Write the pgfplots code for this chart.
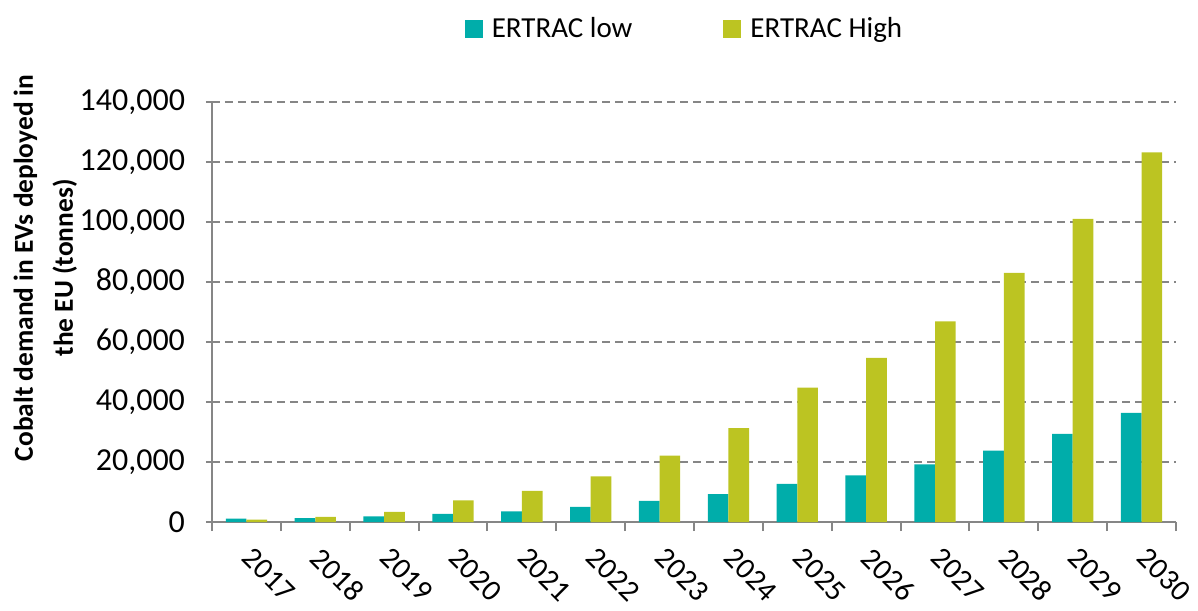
\documentclass[border=0pt]{standalone}
\usepackage{fontspec}
\setmainfont{Carlito}
\usepackage{pgfplots}
\usepackage{pgfplotstable}
\pgfplotsset{compat=1.18}
\definecolor{cTeal}{RGB}{0,173,170}
\definecolor{cOlive}{RGB}{188,196,34}
\definecolor{gridgray}{RGB}{134,134,134}
\pgfplotstableread{
x low high
0 1100 800
1 1300 1700
2 1900 3400
3 2700 7200
4 3500 10400
5 5000 15200
6 7000 22100
7 9300 31300
8 12700 44800
9 15500 54700
10 19200 66900
11 23800 83000
12 29400 101000
13 36400 123200
}\datatable
\begin{document}
\begin{tikzpicture}
\begin{axis}[
  width=482pt, height=210pt, scale only axis,
  xmin=-0.5, xmax=13.5, ymin=0, ymax=140000,
  enlargelimits=false, clip=false,
  ybar=0pt, bar width=0.3,
  axis x line*=bottom, axis y line*=left,
  axis line style={-, gridgray, line width=1pt},
  xtick={0,...,13},
  xticklabels={2017,2018,2019,2020,2021,2022,2023,2024,2025,2026,2027,2028,2029,2030},
  major x tick style={draw=none},
  minor xtick={-0.5,0.5,...,13.5},
  tick align=outside,
  major tick length=3pt, minor tick length=4.5pt,
  tick style={gridgray, line width=1pt},
  ytick={0,20000,...,140000},
  scaled y ticks=false,
  /pgf/number format/fixed,
  /pgf/number format/1000 sep={,},
  /pgf/number format/assume math mode=true,
  xticklabel style={font=\fontsize{15}{18}\selectfont, xshift=4pt, yshift=-4pt, rotate=-45, anchor=north west},
  yticklabel style={font=\fontsize{16}{19}\selectfont, xshift=-7pt},
  ymajorgrids,
  major grid style={gridgray, line width=1pt, dash pattern=on 4pt off 2.5pt},
  ylabel={Cobalt demand in EVs deployed in\\the EU (tonnes)},
  ylabel style={at={(axis description cs:-0.173,0.605)}, anchor=center, align=center, font=\bfseries\fontsize{13.7}{20}\selectfont},
  legend columns=2,
  legend style={at={(0.5,1)}, anchor=south, xshift=-3pt, yshift=26.5pt, draw=none, font=\fontsize{14.5}{17}\selectfont, /tikz/every even column/.append style={column sep=41pt}},
  legend image code/.code={\fill[#1,draw=none] (0pt,-4.5pt) rectangle (9pt,4.5pt);},
  legend cell align=left,
  legend style={nodes={inner xsep=4.5pt}},
]
\addplot[fill=cTeal, draw=none] table[x=x,y=low]{\datatable};
\addplot[fill=cOlive, draw=none] table[x=x,y=high]{\datatable};
\legend{ERTRAC low, ERTRAC High}
\end{axis}
\pgfresetboundingbox
\useasboundingbox (-106pt,-44pt) rectangle (493pt,261pt);
\end{tikzpicture}
\end{document}
